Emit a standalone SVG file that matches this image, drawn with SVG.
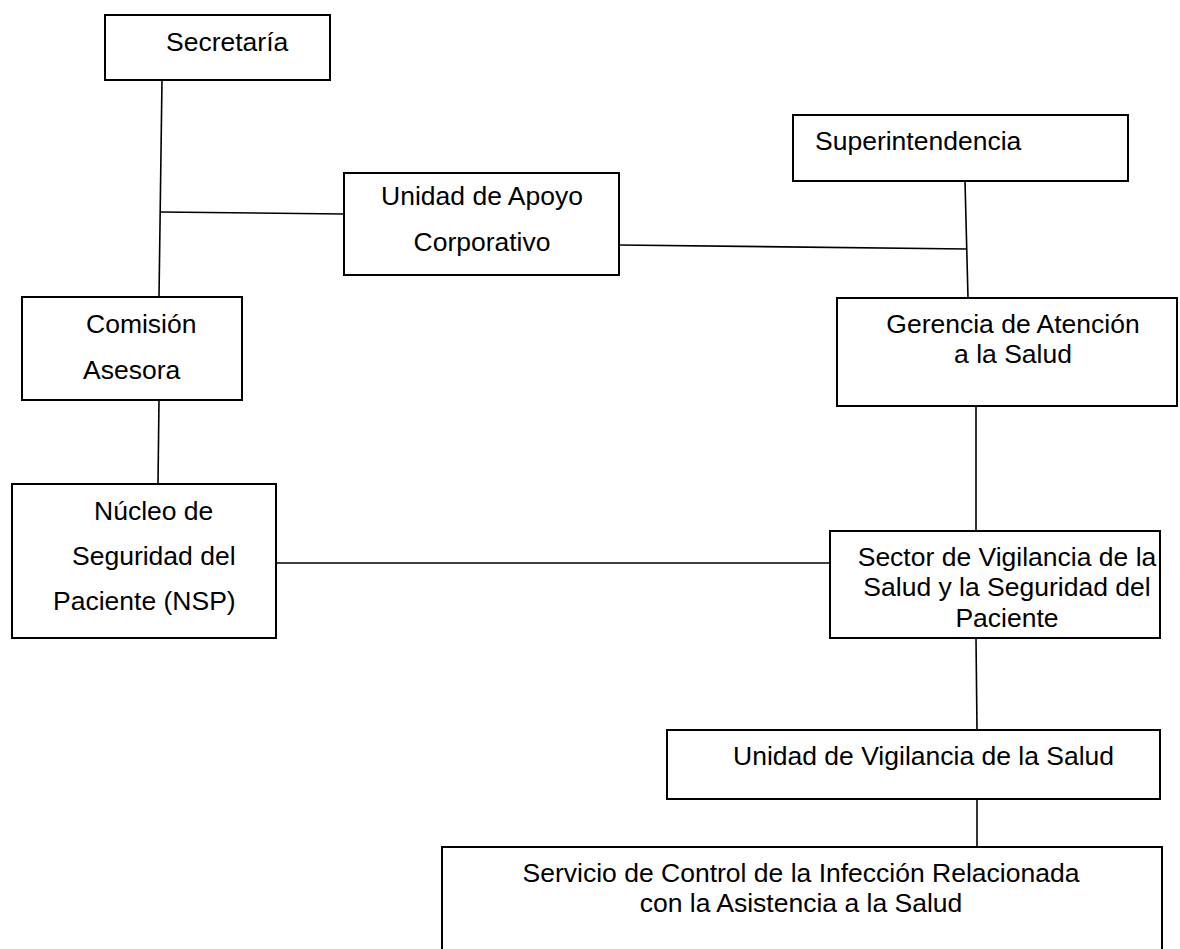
<svg xmlns="http://www.w3.org/2000/svg" width="1180" height="949" viewBox="0 0 1180 949">
<style>
.box{fill:#fff;stroke:#000;stroke-width:2}
.t{font-family:"Liberation Sans",Arial,sans-serif;font-size:26.5px;fill:#000}
.m{text-anchor:middle}
#connectors line{stroke:#000;stroke-width:1.6}
</style>
<rect width="1180" height="949" fill="#fff"/>
<g id="connectors">
<line x1="162" y1="80" x2="159" y2="297"/>
<line x1="160" y1="212" x2="344" y2="214"/>
<line x1="619" y1="245" x2="967" y2="249"/>
<line x1="965" y1="181" x2="968" y2="298"/>
<line x1="159" y1="400" x2="158" y2="484"/>
<line x1="976" y1="406" x2="976" y2="531"/>
<line x1="276" y1="563" x2="830" y2="563"/>
<line x1="976" y1="638" x2="977" y2="730"/>
<line x1="977" y1="799" x2="977" y2="847"/>
</g>
<g id="secretaria">
<rect class="box" x="105" y="15" width="225" height="65"/>
<text class="t" x="166" y="51">Secretaría</text>
</g>
<g id="unidad-apoyo">
<rect class="box" x="344" y="173" width="275" height="102"/>
<text class="t m" x="482" y="205">Unidad de Apoyo</text>
<text class="t m" x="482" y="251">Corporativo</text>
</g>
<g id="superintendencia">
<rect class="box" x="793" y="115" width="335" height="66"/>
<text class="t" x="815" y="150">Superintendencia</text>
</g>
<g id="comision">
<rect class="box" x="22" y="297" width="220" height="103"/>
<text class="t" x="86" y="333">Comisión</text>
<text class="t" x="83" y="379">Asesora</text>
</g>
<g id="gerencia">
<rect class="box" x="837" y="298" width="340" height="108"/>
<text class="t m" x="1013" y="333">Gerencia de Atención</text>
<text class="t m" x="1013" y="363">a la Salud</text>
</g>
<g id="nucleo">
<rect class="box" x="12" y="484" width="264" height="154"/>
<text class="t" x="94" y="520">Núcleo de</text>
<text class="t" x="72" y="565">Seguridad del</text>
<text class="t" x="53" y="610">Paciente (NSP)</text>
</g>
<g id="sector">
<rect class="box" x="830" y="531" width="330" height="107"/>
<text class="t m" x="1007" y="566">Sector de Vigilancia de la</text>
<text class="t m" x="1007" y="596">Salud y la Seguridad del</text>
<text class="t m" x="1007" y="627">Paciente</text>
</g>
<g id="unidad-vigilancia">
<rect class="box" x="667" y="730" width="493" height="69"/>
<text class="t" x="733" y="765">Unidad de Vigilancia de la Salud</text>
</g>
<g id="servicio">
<rect class="box" x="442" y="847" width="720" height="120"/>
<text class="t m" x="801" y="882">Servicio de Control de la Infección Relacionada</text>
<text class="t m" x="801" y="912">con la Asistencia a la Salud</text>
</g>
</svg>
